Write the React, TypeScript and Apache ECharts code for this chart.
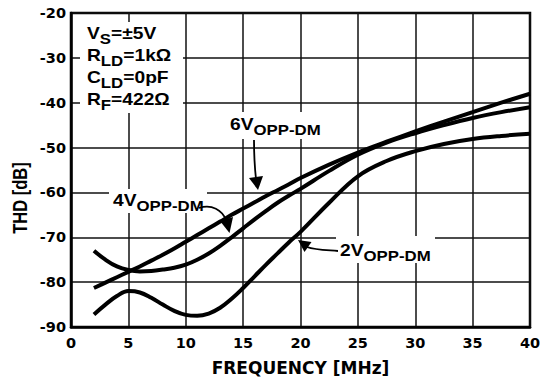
import React, { useEffect, useRef } from "react";
import * as echarts from "echarts";

// Frequency (MHz)
const freq = [2, 3, 4, 5, 6, 7, 8, 9, 10, 11, 12, 13, 14, 15, 16, 17, 18, 19, 20, 22.5, 25, 27.5, 30, 32.5, 35, 37.5, 40];
// THD (dB) for each output swing
const thd6V = [-81.3, -80.1, -78.9, -77.7, -76.5, -75.2, -73.9, -72.5, -71.0, -69.5, -68.0, -66.5, -65.0, -63.6, -62.2, -60.8, -59.5, -58.2, -56.8, -53.8, -51.1, -48.7, -46.4, -44.2, -42.1, -40.0, -38.0];
const thd4V = [-73.0, -75.0, -76.5, -77.3, -77.6, -77.5, -77.2, -76.8, -76.1, -75.0, -73.6, -71.9, -70.0, -68.0, -66.0, -64.1, -62.3, -60.7, -59.2, -55.2, -51.6, -48.9, -46.8, -45.0, -43.4, -42.1, -41.0];
const thd2V = [-87.2, -85.0, -83.1, -82.0, -82.3, -83.5, -85.0, -86.4, -87.3, -87.5, -87.0, -85.7, -83.7, -81.3, -78.7, -76.1, -73.6, -71.1, -68.8, -62.3, -56.4, -53.0, -50.8, -49.2, -48.1, -47.4, -46.9];

const xMin = 0, xMax = 40, xStep = 5;
const yMin = -90, yMax = -20, yStep = 10;

const conditions = [
  "{m|V}{s|S}{m|=±5V}",
  "{m|R}{s|LD}{m|=1kΩ}",
  "{m|C}{s|LD}{m|=0pF}",
  "{m|R}{s|F}{m|=422Ω}",
];

const FONT = "'Liberation Sans', Arial, sans-serif";
const AXFONT = "'DejaVu Sans', sans-serif";

const rich = {
  m: { fontSize: 16, fontWeight: "bold", fontFamily: FONT, lineHeight: 22, color: "#000" },
  s: { fontSize: 14, fontWeight: "bold", fontFamily: FONT, lineHeight: 22, color: "#000", padding: [11, 0, 0, 0] },
};

function label(text: string, x: number, y: number) {
  return {
    type: "text",
    x,
    y,
    scaleX: 1.2,
    z: 100,
    style: { text, rich, align: "left", verticalAlign: "middle" },
  };
}

function whiteBox(x: number, y: number, w: number, h: number) {
  return { type: "rect", z: 90, shape: { x, y, width: w, height: h }, style: { fill: "#fff" } };
}

function curve(x1: number, y1: number, c1x: number, c1y: number, c2x: number, c2y: number, x2: number, y2: number) {
  return {
    type: "bezierCurve",
    z: 100,
    shape: { x1, y1, cpx1: c1x, cpy1: c1y, cpx2: c2x, cpy2: c2y, x2, y2 },
    style: { stroke: "#000", lineWidth: 1.8, fill: null },
  };
}

function head(points: number[][]) {
  return { type: "polygon", z: 100, shape: { points }, style: { fill: "#000" } };
}

export default function App() {
  const ref = useRef<HTMLDivElement>(null);
  useEffect(() => {
    if (!ref.current) return;
    const chart = echarts.init(ref.current, null, { renderer: "svg" });
    const mk = (arr: number[]) => freq.map((f, i) => [f, arr[i]]);
    const lineSeries = (name: string, arr: number[]) => ({
      name,
      type: "line",
      data: mk(arr),
      showSymbol: false,
      smooth: 0.4,
      z: 5,
      lineStyle: { color: "#000", width: 4 },
    });
    chart.setOption({
      animation: false,
      backgroundColor: "#fff",
      grid: { left: 71, right: 21, top: 13, bottom: 58, show: true, borderColor: "#000", borderWidth: 2.5 },
      xAxis: {
        type: "value",
        min: xMin,
        max: xMax,
        interval: xStep,
        name: "FREQUENCY [MHz]",
        nameLocation: "middle",
        nameGap: 32,
        nameTextStyle: { fontFamily: AXFONT, fontWeight: "bold", fontSize: 17, color: "#000" },
        axisLine: { show: true, lineStyle: { color: "#000", width: 2.5 } },
        axisTick: { show: false },
        axisLabel: { fontFamily: AXFONT, fontWeight: "bold", fontSize: 14.5, color: "#000", margin: 8 },
        splitLine: { show: true, lineStyle: { color: "#111", width: 1.5 } },
      },
      yAxis: {
        type: "value",
        min: yMin,
        max: yMax,
        interval: yStep,
        axisLine: { show: true, lineStyle: { color: "#000", width: 2.5 } },
        axisTick: { show: false },
        axisLabel: { fontFamily: AXFONT, fontWeight: "bold", fontSize: 14.5, color: "#000", margin: 5 },
        splitLine: { show: true, lineStyle: { color: "#111", width: 1.5 } },
      },
      series: [lineSeries("6VOPP-DM", thd6V), lineSeries("4VOPP-DM", thd4V), lineSeries("2VOPP-DM", thd2V)],
      graphic: [
        {
          type: "text",
          x: 20,
          y: 198,
          rotation: Math.PI / 2,
          scaleY: 1.2,
          z: 100,
          style: {
            text: "THD [dB]",
            fontFamily: FONT,
            fontWeight: "bold",
            fontSize: 16.5,
            fill: "#000",
            align: "center",
            verticalAlign: "middle",
          },
        },
        whiteBox(80, 22, 103, 91),
        {
          type: "text",
          x: 87,
          y: 23,
          scaleX: 1.2,
          z: 100,
          style: { text: conditions.join("\n"), rich, align: "left", verticalAlign: "top" },
        },
        whiteBox(226, 112, 98, 27),
        label("{m|6V}{s|OPP-DM}", 230, 124.5),
        whiteBox(109, 189, 98, 24),
        label("{m|4V}{s|OPP-DM}", 113, 200.5),
        whiteBox(336, 236, 99, 27),
        label("{m|2V}{s|OPP-DM}", 340, 251),
        // 6V arrow
        curve(254, 140, 254, 160, 255, 170, 256, 179),
        head([[249, 178], [263, 176], [258, 190]]),
        // 4V arrow
        curve(199, 208, 212, 204, 222, 210, 226, 220),
        head([[220, 221], [233, 217], [229.5, 233]]),
        // 2V arrow
        curve(338, 251, 325, 250, 315, 250, 307, 247),
        head([[311.5, 242], [304.5, 252], [298, 240]]),
      ],
    });
    return () => chart.dispose();
  }, []);
  return <div ref={ref} style={{ width: 551, height: 385, position: "absolute", left: 0, top: 0 }} />;
}
